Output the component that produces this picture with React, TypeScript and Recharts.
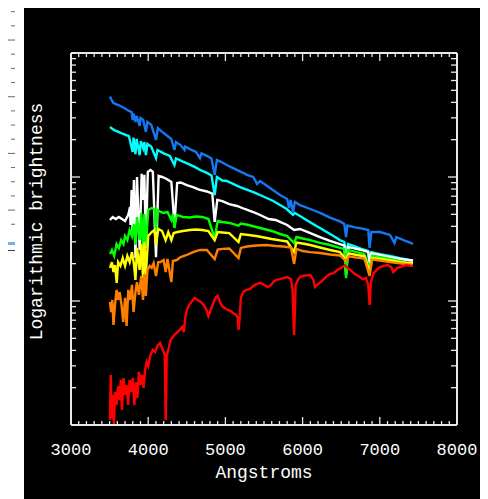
import React from 'react';
import { LineChart, Line, XAxis, YAxis, Label } from 'recharts';

// wavelength (Angstrom), brightness (log axis)
const blueStar: [number, number][] = [[3505,446],[3525,418],[3550,395],[3590,385],[3640,374],[3690,360],[3740,344],[3785,334],[3798,288],[3810,325],[3835,278],[3850,311],[3889,258],[3900,299],[3935,288],[3970,231],[3990,278],[4040,263],[4101,199],[4125,248],[4180,231],[4250,214],[4300,202],[4340,165],[4360,191],[4420,181],[4471,165],[4480,176],[4540,168],[4620,159],[4671,142],[4690,155],[4760,148],[4820,141],[4861,104],[4890,137],[4950,132],[5017,125],[5100,118],[5189,111],[5280,104],[5361,100],[5410,87.9],[5450,92.9],[5578,81.5],[5707,71.6],[5800,66.5],[5824,56.2],[5845,65.3],[5876,52.2],[5900,62.9],[5966,59.4],[6100,55.2],[6225,51.3],[6355,47.1],[6484,43.8],[6540,41.8],[6563,32.8],[6580,40.6],[6680,39.2],[6760,38.5],[6850,37.4],[6868,26.8],[6890,36.0],[7002,36.0],[7132,34.1],[7190,29.4],[7215,32.8],[7262,31.9],[7350,30.2],[7400,29.4],[7430,28.8]];

const cyanStar: [number, number][] = [[3505,253],[3530,246],[3560,239],[3600,233],[3650,226],[3700,220],[3750,214],[3798,159],[3810,208],[3835,153],[3850,203],[3889,150],[3905,195],[3935,171],[3950,191],[3970,150],[3990,185],[4040,175],[4101,142],[4120,165],[4200,155],[4280,148],[4340,125],[4360,141],[4450,133],[4540,126],[4620,119],[4671,114],[4760,108],[4820,103],[4861,71.6],[4890,100],[4960,93.7],[5017,92.9],[5100,87.9],[5189,83.0],[5276,79.2],[5361,75.6],[5448,71.6],[5535,67.7],[5620,64.0],[5707,59.4],[5794,55.2],[5876,49.5],[5900,51.3],[5966,48.5],[6050,45.0],[6135,41.8],[6225,38.8],[6312,36.0],[6400,33.4],[6484,31.0],[6540,29.9],[6563,24.8],[6590,28.8],[6660,27.8],[6760,26.3],[6850,25.3],[6868,20.6],[6890,24.8],[7002,23.9],[7132,23.1],[7262,22.2],[7350,21.6],[7430,21.0]];

const whiteStar: [number, number][] = [[3505,45.0],[3540,47.6],[3580,45.8],[3620,47.6],[3660,45.8],[3700,44.2],[3740,49.4],[3750,52.2],[3765,57.3],[3771,41.0],[3785,78.5],[3798,34.1],[3815,94.6],[3835,22.2],[3855,100],[3889,25.8],[3915,106],[3935,65.3],[3950,104],[3970,28.3],[3995,110],[4030,114],[4060,110],[4101,22.6],[4135,102],[4180,100],[4240,96.4],[4300,91.2],[4340,41.0],[4375,89.5],[4420,90.3],[4500,86.1],[4580,83.0],[4660,79.2],[4760,76.4],[4830,73.6],[4861,43.4],[4895,65.3],[4960,64.0],[5050,60.5],[5150,58.4],[5250,55.2],[5360,52.2],[5450,49.4],[5560,45.8],[5650,45.0],[5707,43.4],[5800,41.0],[5890,37.4],[5966,38.1],[6100,35.3],[6225,32.8],[6355,30.5],[6484,28.8],[6540,28.0],[6563,16.2],[6590,27.3],[6760,25.8],[6850,24.8],[6868,19.5],[6890,24.2],[7002,23.5],[7132,22.6],[7262,21.8],[7430,21.2]];

const greenStar: [number, number][] = [[3505,23.9],[3530,25.8],[3560,23.1],[3590,28.8],[3620,26.8],[3650,31.0],[3680,28.8],[3700,33.4],[3730,31.0],[3760,37.4],[3790,33.4],[3815,41.8],[3835,28.3],[3855,47.6],[3889,31.0],[3910,51.3],[3933,25.8],[3950,50.3],[3970,26.8],[4000,54.2],[4045,56.2],[4080,55.2],[4101,36.0],[4120,54.2],[4160,52.2],[4200,51.3],[4250,52.2],[4300,45.0],[4320,50.3],[4340,38.8],[4370,49.4],[4450,47.6],[4540,47.1],[4620,48.0],[4700,47.6],[4780,45.8],[4861,32.2],[4900,44.2],[4960,43.4],[5050,42.6],[5170,40.6],[5200,42.2],[5300,41.0],[5400,39.5],[5500,38.1],[5600,36.7],[5707,34.7],[5800,33.4],[5890,29.4],[5920,32.8],[6000,31.9],[6100,31.0],[6225,29.4],[6355,28.3],[6484,26.8],[6540,26.3],[6563,15.3],[6590,25.8],[6700,24.8],[6800,23.9],[6868,18.5],[6900,23.1],[7002,22.6],[7132,21.8],[7262,21.0],[7350,20.2],[7430,19.9]];

const yellowStar: [number, number][] = [[3505,18.5],[3530,20.6],[3550,17.1],[3570,19.5],[3592,14.0],[3610,20.6],[3640,19.2],[3670,22.2],[3700,19.2],[3730,23.1],[3760,20.6],[3790,24.8],[3815,19.9],[3835,14.8],[3855,26.8],[3889,17.8],[3910,28.8],[3933,15.3],[3950,29.9],[3970,16.2],[4000,33.4],[4045,36.0],[4080,37.4],[4101,28.3],[4130,38.1],[4180,36.7],[4226,31.0],[4260,36.0],[4300,31.0],[4330,35.3],[4380,36.0],[4450,36.7],[4540,37.4],[4620,37.7],[4700,37.4],[4780,36.7],[4861,31.0],[4900,36.0],[4960,35.7],[5050,35.3],[5170,29.9],[5200,34.7],[5300,34.1],[5400,33.4],[5500,32.5],[5600,31.6],[5707,30.8],[5800,30.2],[5890,24.8],[5920,29.6],[6000,29.1],[6100,28.3],[6225,27.0],[6355,25.8],[6484,24.8],[6563,21.4],[6600,24.2],[6700,23.5],[6800,22.9],[6868,17.1],[6900,22.2],[7002,21.8],[7132,21.2],[7262,20.6],[7430,20.2]];

const orangeStar: [number, number][] = [[3505,9.82],[3520,8.15],[3535,10.2],[3550,6.41],[3570,9.28],[3590,12.3],[3610,10.2],[3630,11.8],[3655,9.28],[3677,6.77],[3700,10.6],[3720,6.29],[3742,12.3],[3765,10.2],[3790,13.5],[3810,8.15],[3835,11.8],[3855,14.2],[3880,11.2],[3910,15.9],[3933,10.2],[3950,16.5],[3970,11.0],[3990,17.8],[4020,19.2],[4045,18.5],[4070,20.2],[4101,15.9],[4130,20.6],[4160,20.6],[4200,21.4],[4226,17.1],[4250,21.8],[4300,14.2],[4320,21.0],[4370,21.4],[4420,22.6],[4500,23.5],[4580,24.8],[4671,25.8],[4760,25.8],[4861,21.8],[4900,26.0],[4960,26.3],[5050,26.5],[5170,22.2],[5200,26.8],[5280,27.5],[5400,28.0],[5535,28.3],[5650,27.8],[5750,27.5],[5850,27.0],[5890,19.9],[5920,26.3],[6000,25.3],[6100,24.8],[6225,24.4],[6355,23.7],[6484,23.3],[6563,21.0],[6600,22.9],[6700,22.4],[6800,22.0],[6868,15.9],[6900,21.6],[7002,21.2],[7132,20.6],[7262,20.1],[7430,19.5]];

const redStar: [number, number][] = [[3505,1.10],[3515,2.53],[3525,1.14],[3540,1.75],[3555,1.02],[3570,1.85],[3590,1.45],[3610,2.06],[3630,1.59],[3645,2.31],[3660,1.32],[3680,2.39],[3700,1.75],[3720,2.10],[3740,1.45],[3760,2.31],[3780,1.85],[3800,2.39],[3820,1.45],[3840,2.22],[3860,1.65],[3880,2.68],[3900,2.10],[3920,2.53],[3940,1.99],[3960,2.78],[3980,3.22],[4000,2.99],[4030,3.67],[4060,4.03],[4090,3.88],[4120,4.34],[4153,4.59],[4180,4.18],[4200,3.88],[4215,3.67],[4226,1.10],[4240,3.60],[4260,4.03],[4290,4.85],[4320,5.13],[4350,5.42],[4380,5.62],[4410,5.84],[4440,6.17],[4460,5.62],[4480,7.29],[4500,8.46],[4530,9.28],[4560,9.82],[4600,10.6],[4640,10.2],[4680,9.82],[4720,9.28],[4760,8.30],[4780,7.57],[4800,8.15],[4830,9.12],[4860,10.2],[4880,10.8],[4900,11.0],[4930,9.82],[4955,9.12],[4990,8.78],[5030,8.46],[5070,8.30],[5100,8.00],[5140,7.71],[5160,7.29],[5170,5.84],[5185,7.29],[5200,10.6],[5230,11.8],[5270,12.3],[5320,12.5],[5360,13.2],[5400,13.7],[5450,14.0],[5500,13.5],[5540,13.0],[5580,13.2],[5620,14.2],[5660,14.8],[5707,15.0],[5750,15.3],[5800,15.6],[5850,15.0],[5870,12.3],[5890,5.32],[5910,13.5],[5940,14.8],[5966,15.6],[6000,15.9],[6050,16.1],[6100,16.2],[6140,14.8],[6160,13.0],[6200,13.7],[6250,14.5],[6300,15.6],[6350,16.5],[6400,16.8],[6450,17.8],[6500,18.5],[6550,19.5],[6580,18.5],[6620,17.8],[6660,16.8],[6700,16.2],[6740,15.6],[6780,15.0],[6820,15.3],[6850,13.5],[6868,9.28],[6885,14.2],[6920,16.8],[6960,17.8],[7002,18.8],[7050,19.2],[7100,19.5],[7150,18.8],[7175,17.1],[7230,18.5],[7262,18.8],[7300,19.2],[7350,19.5],[7400,19.2],[7430,19.2]];

const series = [
  { name: 'blue', data: blueStar, color: '#1478f0' },
  { name: 'cyan', data: cyanStar, color: '#00ffff' },
  { name: 'white', data: whiteStar, color: '#ffffff' },
  { name: 'green', data: greenStar, color: '#00ff00' },
  { name: 'yellow', data: yellowStar, color: '#ffff00' },
  { name: 'orange', data: orangeStar, color: '#ff8000' },
  { name: 'red', data: redStar, color: '#ff0000' },
];

const xMajorTicks = [3000, 4000, 5000, 6000, 7000, 8000];
const xAllTicks = Array.from({ length: 51 }, (_, i) => 3000 + i * 100);
const yMajorTicks = [1, 10, 100, 1000];
const yAllTicks = [1, 2, 3, 4, 5, 6, 7, 8, 9, 10, 20, 30, 40, 50, 60, 70, 80, 90, 100, 200, 300, 400, 500, 600, 700, 800, 900, 1000];

const xTitle = 'Angstroms';
const yTitle = 'Logarithmic brightness';

const FONT = '"Liberation Mono", "DejaVu Sans Mono", monospace';
const AXIS = '#e8e8e8';

const toPoints = (d: [number, number][]) => d.map(([w, f]) => ({ w, f }));

function BottomTick(props: any) {
  const { x, y, payload } = props;
  const major = xMajorTicks.includes(payload.value);
  return (
    <g>
      <line x1={x} y1={y} x2={x} y2={y - (major ? 8 : 4)} stroke={AXIS} strokeWidth={1.3} />
      {major && (
        <text x={x} y={y + 30} textAnchor="middle" fill="#ffffff" fontFamily={FONT} fontSize={17}>
          {payload.value}
        </text>
      )}
    </g>
  );
}
function TopTick(props: any) {
  const { x, y, payload } = props;
  const major = xMajorTicks.includes(payload.value);
  return <line x1={x} y1={y} x2={x} y2={y + (major ? 8 : 4)} stroke={AXIS} strokeWidth={1.3} />;
}
function LeftTick(props: any) {
  const { x, y, payload } = props;
  const major = yMajorTicks.includes(payload.value);
  return <line x1={x} y1={y} x2={x + (major ? 9 : 5)} y2={y} stroke={AXIS} strokeWidth={1.3} />;
}
function RightTick(props: any) {
  const { x, y, payload } = props;
  const major = yMajorTicks.includes(payload.value);
  return <line x1={x} y1={y} x2={x - (major ? 9 : 6)} y2={y} stroke={AXIS} strokeWidth={1.3} />;
}

const rulerMarks = Array.from({ length: 16 }, (_, i) => i);

export default function App() {
  return (
    <div style={{ position: 'relative', width: 488, height: 499 }}>
      <svg style={{ position: 'absolute', left: -8, top: -8 }} width={24} height={260}>
        {rulerMarks.map((i) => (
          <line key={i} x1={i % 4 === 2 ? 6 : 11} x2={15} y1={11.7 + i * 14.17} y2={11.7 + i * 14.17} stroke="#6a6a6a" strokeWidth={1} />
        ))}
        <rect x={0} y={242} width={15} height={3} fill="#6db3ee" />
        <line x1={0} x2={15} y1={250.5} y2={250.5} stroke="#3a3a3a" />
      </svg>
      <div style={{ position: 'absolute', left: 16, top: -4, width: 464, height: 495, background: '#000' }}>
        <LineChart width={464} height={495} margin={{ top: 48, right: 30, bottom: 73, left: 46 }}>
          <XAxis
            xAxisId="bottom"
            dataKey="w"
            type="number"
            domain={[3000, 8000]}
            ticks={xAllTicks}
            interval={0}
            height={1}
            tickSize={0}
            tickMargin={0}
            tickLine={false}
            tick={<BottomTick />}
            axisLine={{ stroke: AXIS, strokeWidth: 2 }}
            allowDataOverflow
          >
            <Label
              content={(p: any) => {
                const vb = p.viewBox || { x: 47, y: 421, width: 386 };
                return (
                  <text x={vb.x + vb.width / 2} y={vb.y + 53} textAnchor="middle" fill="#ffffff" fontFamily={FONT} fontSize={18}>
                    {xTitle}
                  </text>
                );
              }}
            />
          </XAxis>
          <XAxis
            xAxisId="top"
            orientation="top"
            dataKey="w"
            type="number"
            domain={[3000, 8000]}
            ticks={xAllTicks}
            interval={0}
            height={1}
            tickSize={0}
            tickMargin={0}
            tickLine={false}
            tick={<TopTick />}
            axisLine={{ stroke: AXIS, strokeWidth: 2 }}
            allowDataOverflow
          />
          <YAxis
            yAxisId="left"
            scale="log"
            type="number"
            domain={[1, 1000]}
            ticks={yAllTicks}
            interval={0}
            width={1}
            tickSize={0}
            tickMargin={0}
            tickLine={false}
            tick={<LeftTick />}
            axisLine={{ stroke: AXIS, strokeWidth: 2 }}
            allowDataOverflow
          >
            <Label
              content={(p: any) => {
                const vb = p.viewBox || { x: 46, y: 49, width: 1, height: 372 };
                const cx = vb.x + (vb.width || 0) - 29;
                const cy = vb.y + vb.height / 2 - 17.5;
                return (
                  <text x={cx} y={cy} transform={`rotate(-90 ${cx} ${cy})`} textAnchor="middle" fill="#ffffff" fontFamily={FONT} fontSize={18}>
                    {yTitle}
                  </text>
                );
              }}
            />
          </YAxis>
          <YAxis
            yAxisId="right"
            orientation="right"
            scale="log"
            type="number"
            domain={[1, 1000]}
            ticks={yAllTicks}
            interval={0}
            width={1}
            tickSize={0}
            tickMargin={0}
            tickLine={false}
            tick={<RightTick />}
            axisLine={{ stroke: AXIS, strokeWidth: 2 }}
            allowDataOverflow
          />
          {series.map((s) => (
            <Line
              key={s.name}
              xAxisId="bottom"
              yAxisId="left"
              data={toPoints(s.data)}
              dataKey="f"
              stroke={s.color}
              strokeWidth={2.4}
              strokeLinejoin="miter"
              dot={false}
              activeDot={false}
              type="linear"
              isAnimationActive={false}
            />
          ))}
        </LineChart>
      </div>
    </div>
  );
}
